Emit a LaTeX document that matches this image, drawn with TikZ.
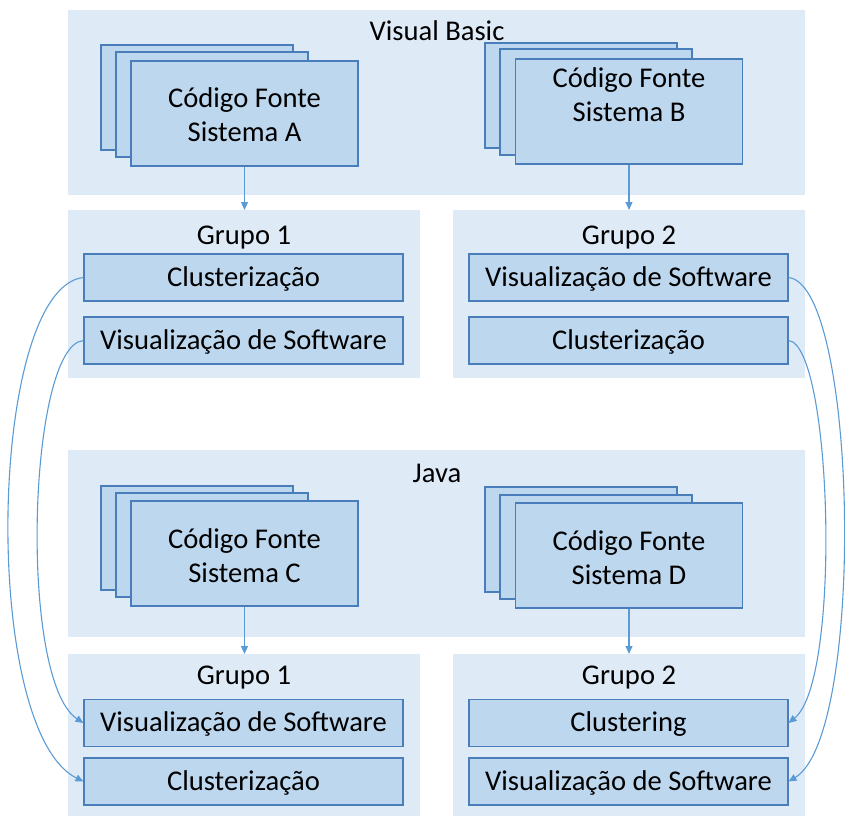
\documentclass[tikz,border=0pt]{standalone}
\usepackage{fontspec}
\setmainfont{Carlito}
\usetikzlibrary{arrows.meta}
\definecolor{panelfill}{HTML}{DEEBF7}
\definecolor{boxfill}{HTML}{BDD7EE}
\definecolor{boxline}{HTML}{4A7EBB}
\definecolor{linkblue}{HTML}{5B9BD5}
\tikzset{
  panel/.style={fill=panelfill, draw=none, inner sep=0pt, outer sep=0pt},
  txt/.style={font=\fontsize{28.6}{34}\selectfont, align=center, inner sep=0pt},
  itembox/.style={fill=boxfill, draw=boxline, line width=1.1pt, inner sep=0pt,
    minimum width=319pt, minimum height=47pt},
  page/.style={fill=boxfill, draw=boxline, line width=1.1pt},
  frontpage/.style={page, inner sep=0pt, minimum width=227pt, minimum height=105pt},
  link/.style={draw=linkblue, line width=1.1pt, -{Triangle[length=8pt,width=7pt]}}
}
\begin{document}
\begin{tikzpicture}[x=1pt,y=-1pt]
\useasboundingbox (0,0) rectangle (845,816);

% ---------- Visual Basic ----------
\node[panel, minimum width=737pt, minimum height=185pt] (vb) at (436.5,102.5) {};
\node[txt] (vbtitle) at (437,31) {Visual Basic};

% source stack A
\draw[page] (101,45) rectangle (293,150);
\draw[page] (116,52) rectangle (308,157);
\node[frontpage] (stA) at (244.5,113.5) {};
\node[txt] (stAtext) at (244.5,115) {Código Fonte\\Sistema A};

% source stack B
\draw[page] (485,43) rectangle (677,148);
\draw[page] (500,49) rectangle (692,155);
\node[frontpage] (stB) at (629,111.5) {};
\node[txt] (stBtext) at (629,95) {Código Fonte\\Sistema B};

% groups
\node[panel, minimum width=352pt, minimum height=168pt] (vbg1) at (244,294) {};
\node[panel, minimum width=352pt, minimum height=168pt] (vbg2) at (629,294) {};
\node[txt] (vbg1title) at (244,238) {Grupo 1};
\node[txt] (vbg2title) at (629,238) {Grupo 2};
\node[itembox] (vbg1a) at (243.5,277.5) {};
\node[itembox] (vbg1b) at (243.5,340.5) {};
\node[itembox] (vbg2a) at (628.5,277.5) {};
\node[itembox] (vbg2b) at (628.5,340.5) {};
\node[txt] (vbg1atext) at (243.5,278.5) {Clusterização};
\node[txt] (vbg1btext) at (243.5,341.5) {Visualização de Software};
\node[txt] (vbg2atext) at (628.5,278.5) {Visualização de Software};
\node[txt] (vbg2btext) at (628.5,341.5) {Clusterização};

\draw[link] (stA.south) -- (stA.south |- vbg1.north);
\draw[link] (stB.south) -- (stB.south |- vbg2.north);

% ---------- Java ----------
\node[panel, minimum width=737pt, minimum height=187pt] (jv) at (436.5,543.5) {};
\node[txt] (jvtitle) at (437,473) {Java};

% source stack C
\draw[page] (101,486) rectangle (293,590);
\draw[page] (116,493) rectangle (308,597);
\node[frontpage] (stC) at (244.5,553.5) {};
\node[txt] (stCtext) at (244.5,556) {Código Fonte\\Sistema C};

% source stack D
\draw[page] (485,487) rectangle (677,592);
\draw[page] (500,495) rectangle (692,599);
\node[frontpage] (stD) at (629,555.5) {};
\node[txt] (stDtext) at (629,558) {Código Fonte\\Sistema D};

% groups
\node[panel, minimum width=352pt, minimum height=162pt] (jg1) at (244,735) {};
\node[panel, minimum width=352pt, minimum height=162pt] (jg2) at (629,735) {};
\node[txt] (jg1title) at (244,678) {Grupo 1};
\node[txt] (jg2title) at (629,678) {Grupo 2};
\node[itembox] (jg1a) at (243.5,723) {};
\node[itembox] (jg1b) at (243.5,781.5) {};
\node[itembox] (jg2a) at (628.5,723) {};
\node[itembox] (jg2b) at (628.5,781.5) {};
\node[txt] (jg1atext) at (243.5,724) {Visualização de Software};
\node[txt] (jg1btext) at (243.5,782.5) {Clusterização};
\node[txt] (jg2atext) at (628.5,724) {Clustering};
\node[txt] (jg2btext) at (628.5,782.5) {Visualização de Software};

\draw[link] (stC.south) -- (stC.south |- jg1.north);
\draw[link] (stD.south) -- (stD.south |- jg2.north);

% ---------- correspondences between the two languages ----------
\draw[link] (vbg1a.west) .. controls (-12,288) and (-20,730) .. (jg1b.west);
\draw[link] (vbg1b.west) .. controls (28,345) and (18,680) .. (jg1a.west);
\draw[link] (vbg2a.east) .. controls (858,285) and (866,735) .. (jg2b.east);
\draw[link] (vbg2b.east) .. controls (832,345) and (842,680) .. (jg2a.east);
\end{tikzpicture}
\end{document}
